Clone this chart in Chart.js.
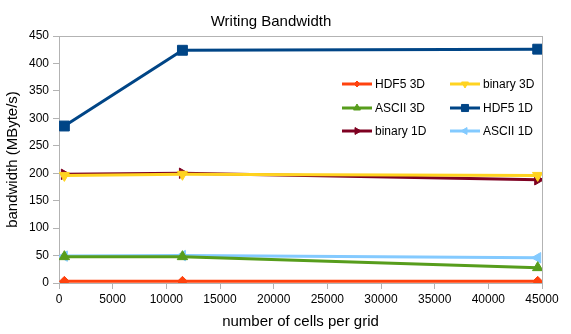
<!DOCTYPE html>
<html>
<head>
<meta charset="utf-8">
<script src="https://cdn.jsdelivr.net/npm/chart.js@4/dist/chart.umd.min.js"></script>
<style>
  body { margin: 0; background: #fff; }
  #wrap { width: 571px; height: 334px; }
</style>
</head>
<body>
<div id="wrap"><canvas id="myChart"></canvas></div>
<script>
// cells per grid
const cells = [500, 11500, 44600];

// bandwidth values (MByte/s)
const hdf5_3d = [3, 3, 3];
const binary_3d = [196, 198, 196];
const ascii_3d = [48, 48, 28];
const hdf5_1d = [286, 424, 426];
const binary_1d = [198, 200, 188];
const ascii_1d = [49, 50, 46];

const seriesNames = ['HDF5 3D', 'binary 3D', 'ASCII 3D', 'HDF5 1D', 'binary 1D', 'ASCII 1D'];
const seriesValues = [hdf5_3d, binary_3d, ascii_3d, hdf5_1d, binary_1d, ascii_1d];
const seriesColors = ['#ff420e', '#ffd320', '#579d1c', '#004586', '#7e0021', '#83caff'];
const seriesMarkers = ['rectRot', 'triangle', 'triangle', 'rect', 'triangle', 'triangle'];
const seriesRotation = [0, 180, 0, 0, 90, -90];
const seriesRadius = [5, 6, 6, 7, 6, 6];

const yTicks = [0, 450, 50];
const xTicks = [0, 45000, 5000];

const axisGray = '#b3b3b3';
const font = 'Liberation Sans, Arial, sans-serif';

const datasets = seriesNames.map((name, i) => ({
    label: name,
    data: cells.map((c, j) => ({ x: c, y: seriesValues[i][j] })),
    borderColor: seriesColors[i],
    backgroundColor: seriesColors[i],
    borderWidth: 3,
    pointStyle: seriesMarkers[i],
    pointRotation: seriesRotation[i],
    pointRadius: seriesRadius[i],
    pointBorderWidth: 1,
    tension: 0
}));

// frame round the plot area, and the legend inside it
const framePlugin = {
    id: 'frame',
    beforeDatasetsDraw(chart) {
        const a = chart.chartArea;
        const ctx = chart.ctx;
        ctx.save();
        ctx.strokeStyle = axisGray;
        ctx.lineWidth = 1;
        ctx.strokeRect(a.left + 0.5, a.top + 0.5, a.right - a.left, a.bottom - a.top);
        ctx.restore();
    },
    afterDraw(chart) {
        const ctx = chart.ctx;
        const colX = [342, 450];
        const rowY = [84, 108, 131];
        ctx.save();
        ctx.font = '12px ' + font;
        ctx.textBaseline = 'middle';
        ctx.fillStyle = '#000';
        seriesNames.forEach((name, i) => {
            const x = colX[i % 2];
            const y = rowY[Math.floor(i / 2)];
            ctx.strokeStyle = seriesColors[i];
            ctx.fillStyle = seriesColors[i];
            ctx.lineWidth = 3;
            ctx.beginPath();
            ctx.moveTo(x, y);
            ctx.lineTo(x + 30, y);
            ctx.stroke();
            ctx.lineWidth = 1;
            Chart.helpers.drawPoint(ctx, {
                pointStyle: seriesMarkers[i],
                rotation: seriesRotation[i],
                radius: seriesRadius[i] - 2,
                borderWidth: 1
            }, x + 15, y);
            ctx.fillStyle = '#000';
            ctx.fillText(name, x + 33, y + 1);
        });
        ctx.restore();
    }
};

const config = {
    type: 'line',
    data: { datasets: datasets },
    plugins: [framePlugin],
    options: {
        responsive: true,
        maintainAspectRatio: false,
        animation: false,
        layout: { padding: { left: 0, right: 29, top: 0, bottom: 0 } },
        plugins: {
            legend: { display: false },
            tooltip: { enabled: false },
            title: {
                display: true,
                text: 'Writing Bandwidth',
                color: '#000',
                font: { family: font, size: 15, weight: 'normal' },
                padding: { top: 13, bottom: 5 }
            }
        },
        scales: {
            x: {
                type: 'linear',
                min: xTicks[0],
                max: xTicks[1],
                ticks: {
                    stepSize: xTicks[2],
                    autoSkip: false,
                    maxRotation: 0,
                    color: '#000',
                    padding: 3,
                    font: { family: font, size: 12 },
                    callback: v => String(v)
                },
                grid: { drawOnChartArea: false, color: axisGray, tickLength: 6 },
                border: { color: axisGray },
                title: {
                    display: true,
                    text: 'number of cells per grid',
                    color: '#000',
                    font: { family: font, size: 15 },
                    padding: { top: 0, bottom: 3 }
                },
                afterFit(scale) {
                    scale.height = 51;
                    scale.paddingLeft = 0;
                    scale.paddingRight = 0;
                }
            },
            y: {
                min: yTicks[0],
                max: yTicks[1],
                ticks: {
                    stepSize: yTicks[2],
                    color: '#000',
                    padding: 4,
                    font: { family: font, size: 12 }
                },
                grid: { drawOnChartArea: false, color: axisGray, tickLength: 6 },
                border: { color: axisGray },
                title: {
                    display: true,
                    text: 'bandwidth (MByte/s)',
                    color: '#000',
                    font: { family: font, size: 15 },
                    padding: { top: 4, bottom: 0 }
                },
                afterFit(scale) {
                    scale.width = 59;
                }
            }
        }
    }
};

const myChart = new Chart(document.getElementById('myChart'), config);
</script>
</body>
</html>
